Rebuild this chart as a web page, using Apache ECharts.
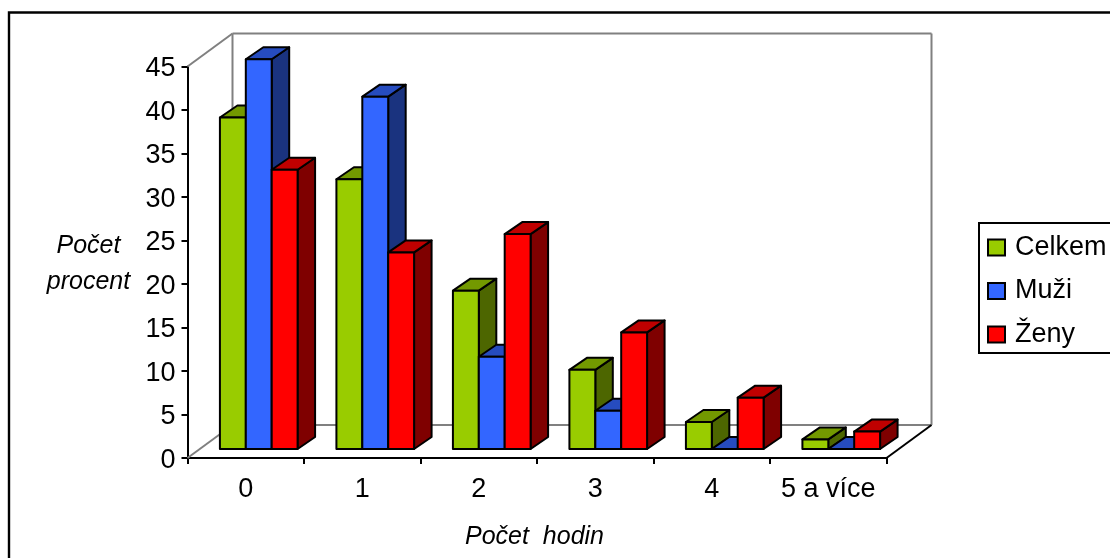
<!DOCTYPE html>
<html><head><meta charset="utf-8">
<style>html,body{margin:0;padding:0;background:#fff}#c{width:1110px;height:558px}</style>
<script src="https://cdn.jsdelivr.net/npm/echarts@6/dist/echarts.min.js"></script>
</head><body><div id="c"></div>
<script>
const categories = ['0','1','2','3','4','5 a více'];
const celkem = [38.1,31.0,18.2,9.1,3.1,1.1];
const muzi = [44.8,40.5,10.6,4.4,0,0];
const zeny = [32.1,22.6,24.7,13.4,5.9,2.0];
const seriesNames = ['Celkem','Muži','Ženy'];

const FONT = '"Liberation Sans", Arial, sans-serif';
const WALL = [45,-33], FRONT = [13,-9], DEPTH = [17.5,-12];
const colors = [
  {front:'#99cc00', top:'#739900', side:'#4d6600'},
  {front:'#3366ff', top:'#264cbf', side:'#1a337f'},
  {front:'#ff0000', top:'#bf0000', side:'#7f0000'}
];
const chart = echarts.init(document.getElementById('c'), null, {renderer:'canvas'});

function poly(points, fill){
  return {type:'polygon', shape:{points}, style:{fill, stroke:'#000', lineWidth:2, lineJoin:'round'}};
}
function barRenderer(k){
  return function(params, api){
    const i = api.value(0), v = api.value(1);
    const base = api.coord([i,0]), topP = api.coord([i,v]);
    const w = api.size([1,0])[0] / 4.5;
    const x0 = base[0] + FRONT[0] + (k-1.5)*w, x1 = x0 + w;
    const yb = base[1] + FRONT[1], yt = topP[1] + FRONT[1];
    const dx = DEPTH[0], dy = DEPTH[1];
    const c = colors[k];
    return {type:'group', children:[
      poly([[x1,yb],[x1+dx,yb+dy],[x1+dx,yt+dy],[x1,yt]], c.side),
      poly([[x0,yt],[x1,yt],[x1+dx,yt+dy],[x0+dx,yt+dy]], c.top),
      poly([[x0,yb],[x1,yb],[x1,yt],[x0,yt]], c.front)
    ]};
  };
}
function wallRenderer(params, api){
  const band = api.size([1,0])[0];
  const c0 = api.coord([0,0]), c1 = api.coord([categories.length-1,0]), cT = api.coord([0,45]);
  const lb = [c0[0]-band/2, c0[1]], lt = [c0[0]-band/2, cT[1]], rb = [c1[0]+band/2, c1[1]];
  const g = (a,b,s) => ({type:'line', shape:{x1:a[0],y1:a[1],x2:b[0],y2:b[1]}, style:{stroke:s, lineWidth:2}});
  const o = p => [p[0]+WALL[0], p[1]+WALL[1]];
  const rt = [rb[0], lt[1]];
  return {type:'group', children:[
    g(o(lb),o(lt),'#808080'), g(o(lt),o(rt),'#808080'), g(o(rt),o(rb),'#808080'), g(o(lb),o(rb),'#808080'),
    g(lt,o(lt),'#808080'), g(lb,o(lb),'#808080'), g(rb,o(rb),'#000')
  ]};
}
const toData = arr => arr.map((v,i)=>[i,v]);
const nameRich = {align:'center', fontSize:25, fontStyle:'italic', fontFamily:FONT, color:'#000'};
const option = {
  animation:false,
  backgroundColor:'#fff',
  textStyle:{fontFamily:FONT},
  graphic:[{type:'rect', z:-1, shape:{x:9,y:12.5,width:1200,height:600}, style:{fill:'none',stroke:'#000',lineWidth:2.4}}],
  grid:{left:187.5, top:66.5, width:699, height:391.5, containLabel:false},
  legend:{
    orient:'vertical', left:979, top:223,
    padding:[11,30,5,8],
    data:seriesNames,
    itemWidth:17, itemHeight:16, itemGap:16.5,
    icon:'rect', backgroundColor:'#fff', borderColor:'#000', borderWidth:2,
    textStyle:{fontSize:27, fontFamily:FONT, color:'#000', padding:[0,0,0,5]}
  },
  xAxis:{
    type:'category', data:categories,
    axisLine:{lineStyle:{color:'#000',width:2}},
    axisTick:{show:true,alignWithLabel:false,length:6,lineStyle:{color:'#000',width:2}},
    axisLabel:{color:'#000',fontSize:27,fontFamily:FONT,margin:18,interval:0},
    name:'Počet  hodin', nameLocation:'middle', nameGap:67,
    nameTextStyle:{color:'#000',fontSize:25,fontStyle:'italic',fontFamily:FONT,padding:[0,5,0,0]}
  },
  yAxis:{
    type:'value', min:0, max:45, interval:5,
    splitLine:{show:false},
    axisLine:{show:true,lineStyle:{color:'#000',width:2}},
    axisTick:{show:true,length:6,lineStyle:{color:'#000',width:2}},
    axisLabel:{color:'#000',fontSize:27,fontFamily:FONT,margin:12,verticalAlign:'top',lineHeight:5},
    name:'{a|Počet}\n{b|procent}', nameLocation:'middle', nameRotate:0, nameGap:99,
    nameTextStyle:{align:'center',verticalAlign:'middle',
      rich:{a:{...nameRich,lineHeight:40},b:{...nameRich,lineHeight:32}}}
  },
  series:[
    {type:'custom', silent:true, z:1, legendHoverLink:false, data:[[0,0]], renderItem:wallRenderer, encode:{x:0,y:1}, clip:false},
    ...[celkem,muzi,zeny].map((arr,k)=>({
      type:'custom', name:seriesNames[k], z:2+k, data:toData(arr), renderItem:barRenderer(k),
      encode:{x:0,y:1}, clip:false,
      itemStyle:{color:colors[k].front, borderColor:'#000', borderWidth:2}
    }))
  ]
};
chart.setOption(option);
</script></body></html>
